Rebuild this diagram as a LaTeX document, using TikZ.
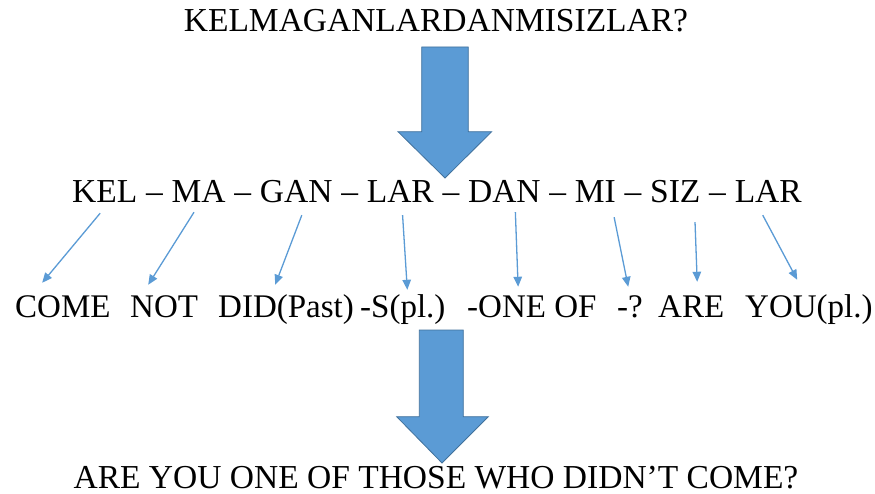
\documentclass[tikz,border=0pt]{standalone}
\usepackage{fontspec}
\setmainfont{Liberation Serif}
\usetikzlibrary{arrows.meta}
\definecolor{abl}{HTML}{5B9BD5}
\definecolor{abd}{HTML}{41719C}
\begin{document}
\begin{tikzpicture}[x=1pt,y=-1pt,
  txt/.style={font=\fontsize{33.5}{36}\selectfont, inner sep=0pt, text height=22pt, text depth=0pt},
  gloss/.style={txt, font=\fontsize{33}{36}\selectfont, anchor=base west},
  syl/.style={txt, anchor=base west},
  link/.style={draw=abl, line width=1.3pt, -{Triangle[length=10pt,width=8.5pt]}},
  bigarrow/.style={fill=abl, draw=abd, line width=0.8pt, line join=miter}]
\useasboundingbox (0,0) rectangle (875,494);
% title
\node[txt, anchor=base] (title) at (436,32) {KELMAGANLARDANMISIZLAR?};
% big arrows
\draw[bigarrow] (421.7,47) -- (468.3,47) -- (468.3,131.7) -- (491.7,131.7) -- (445,178)
  -- (398,131.7) -- (421.7,131.7) -- cycle;
\draw[bigarrow] (419.3,330) -- (463.3,330) -- (463.3,416.7) -- (488.3,416.7) -- (442,463)
  -- (396.7,416.7) -- (419.3,416.7) -- cycle;
% middle line
\node[syl] (m1) at (72,203) {KEL};
\node[syl] (d1) at (m1.base east) {\kern0.25em–\kern0.25em};
\node[syl] (m2) at (d1.base east) {MA};
\node[syl] (d2) at (m2.base east) {\kern0.25em–\kern0.25em};
\node[syl] (m3) at (d2.base east) {GAN};
\node[syl] (d3) at (m3.base east) {\kern0.25em–\kern0.25em};
\node[syl] (m4) at (d3.base east) {LAR};
\node[syl] (d4) at (m4.base east) {\kern0.25em–\kern0.25em};
\node[syl] (m5) at (d4.base east) {DAN};
\node[syl] (d5) at (m5.base east) {\kern0.25em–\kern0.25em};
\node[syl] (m6) at (d5.base east) {MI};
\node[syl] (d6) at (m6.base east) {\kern0.25em–\kern0.25em};
\node[syl] (m7) at (d6.base east) {SIZ};
\node[syl] (d7) at (m7.base east) {\kern0.25em–\kern0.25em};
\node[syl] (m8) at (d7.base east) {LAR};
% gloss line
\node[gloss] (g1) at (15,317) {COME};
\node[gloss] (g2) at (130,317) {NOT};
\node[gloss] (g3) at (218,317) {DID(Past)};
\node[gloss] (g4) at (360,317) {-S(pl.)};
\node[gloss] (g5) at (467,317) {-ONE OF};
\node[gloss] (g6) at (617,317) {-?};
\node[gloss] (g7) at (658,317) {ARE};
\node[gloss] (g8) at (745,317) {YOU(pl.)};
% translation
\node[txt, anchor=base] (tr) at (436,488) {ARE YOU ONE OF THOSE WHO DIDN’T COME?};
% links
\draw[link] ([xshift=-4.6pt,yshift=-10pt]m1.south) -- ([xshift=-20.7pt,yshift=12pt]g1.north);
\draw[link] ([xshift=-4.6pt,yshift=-9pt]m2.south) -- ([xshift=-15.9pt,yshift=10pt]g2.north);
\draw[link] ([xshift=5.6pt,yshift=-12pt]m3.south) -- ([xshift=-10.8pt,yshift=10pt]g3.north);
\draw[link] ([xshift=2.3pt,yshift=-12pt]m4.south) -- ([xshift=4.5pt,yshift=5pt]g4.north);
\draw[link] ([xshift=11pt,yshift=-9pt]m5.south) -- ([xshift=-13.7pt,yshift=8pt]g5.north);
\draw[link] ([xshift=18.7pt,yshift=-14pt]m6.south) -- ([xshift=-1.8pt,yshift=8pt]g6.north);
\draw[link] ([xshift=19.7pt,yshift=-19pt]m7.south) -- ([xshift=6pt,yshift=13pt]g7.north);
\draw[link] ([xshift=-5.5pt,yshift=-12pt]m8.south) -- ([xshift=-11.7pt,yshift=15pt]g8.north);
\end{tikzpicture}
\end{document}
